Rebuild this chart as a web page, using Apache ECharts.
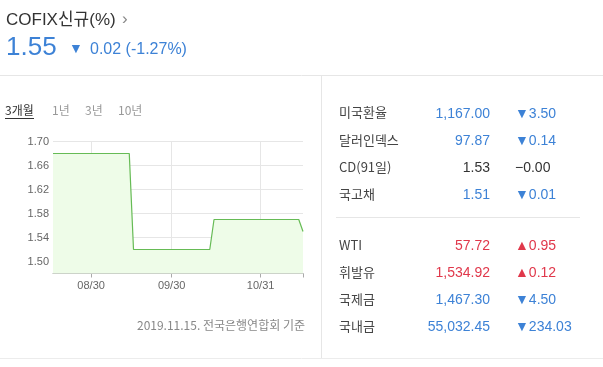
<!DOCTYPE html>
<html><head><meta charset="utf-8">
<script src="https://cdn.jsdelivr.net/npm/echarts@6/dist/echarts.min.js"></script>
<style>html,body{margin:0;padding:0;background:#fff;}#c{width:603px;height:367px;}</style>
</head><body><div id="c"></div>
<script>
// ---- data ----
var dates = ['08/19','08/20','08/21','08/22','08/23','08/26','08/27','08/28','08/29','08/30',
 '09/02','09/03','09/04','09/05','09/06','09/09','09/10','09/11','09/16','09/17','09/18','09/19','09/20','09/23','09/24','09/25','09/26','09/27','09/30',
 '10/01','10/02','10/04','10/07','10/08','10/10','10/11','10/14','10/15','10/16','10/17','10/18','10/21','10/22','10/23','10/24','10/25','10/28','10/29','10/30','10/31',
 '11/01','11/04','11/05','11/06','11/07','11/08','11/11','11/12','11/13','11/14'];
var cofix = [1.68,1.68,1.68,1.68,1.68,1.68,1.68,1.68,1.68,1.68,
 1.68,1.68,1.68,1.68,1.68,1.68,1.68,1.68,1.68,1.52,1.52,1.52,1.52,1.52,1.52,1.52,1.52,1.52,1.52,
 1.52,1.52,1.52,1.52,1.52,1.52,1.52,1.52,1.52,1.57,1.57,1.57,1.57,1.57,1.57,1.57,1.57,1.57,1.57,1.57,1.57,
 1.57,1.57,1.57,1.57,1.57,1.57,1.57,1.57,1.57,1.55];
var xTickLabels = ['08/30','09/30','10/31'];
var yTickLabels = ['1.50','1.54','1.58','1.62','1.66','1.70'];
var titleText = 'COFIX신규(%)';
var currentValue = '1.55';
var changeText = '0.02 (-1.27%)';
var periodTabs = ['3개월','1년','3년','10년'];
var footerText = '2019.11.15. 전국은행연합회 기준';
var marketNames = ['미국환율','달러인덱스','CD(91일)','국고채','WTI','휘발유','국제금','국내금'];
var marketValues = ['1,167.00','97.87','1.53','1.51','57.72','1,534.92','1,467.30','55,032.45'];
var marketChanges = [-3.50,-0.14,0.00,-0.01,0.95,0.12,-4.50,-234.03];

// ---- layout ----
var NUM = '"Liberation Sans", "Noto Sans CJK KR", sans-serif';
var KR = '"Noto Sans CJK KR", "Liberation Sans", sans-serif';
var BLUE = '#3d82d6', RED = '#e0384b', DARK = '#333';
var rowY = [114, 141.5, 168.5, 195.5, 246.5, 273.5, 300.5, 327.5];
var tabX = [5, 52, 85, 118];

var g = [];
function line(x1,y1,x2,y2,c){ g.push({type:'line',shape:{x1:x1,y1:y1,x2:x2,y2:y2},style:{stroke:c||'#e6e6e6',lineWidth:1},silent:true}); }
function text(t,x,y,o){ g.push({type:'text',x:x,y:y,style:Object.assign({text:t,textVerticalAlign:'middle',verticalAlign:'middle'},o),silent:true}); }

line(0,75.5,603,75.5);
line(321.5,76,321.5,358);
line(0,358.5,603,358.5,'#ececec');
line(336,217.5,580,217.5);

text(titleText,6,20,{font:'17px '+NUM,fill:DARK});
text('›',122,19,{font:'17px '+NUM,fill:'#888'});
text(currentValue,6,48,{font:'26px '+NUM,fill:BLUE});
text('▼',69,49,{font:'14px '+NUM,fill:BLUE});
text(changeText,90,50,{font:'16px '+NUM,fill:BLUE});

periodTabs.forEach(function(t,i){
  text(t,tabX[i],110,{font:'12px '+KR,fill:i===0?DARK:'#999'});
});
line(5,118.5,34,118.5,'#333');

text(footerText,305,325,{font:'12px '+KR,fill:'#888',align:'right',textAlign:'right'});

marketNames.forEach(function(n,i){
  var ch = marketChanges[i];
  var col = ch < 0 ? BLUE : (ch > 0 ? RED : DARK);
  var sym = ch < 0 ? '▼' : (ch > 0 ? '▲' : '−');
  text(n,339,rowY[i]-1.5,{font:'13px '+KR,fill:'#444'});
  text(marketValues[i],490,rowY[i],{font:'14px '+NUM,fill:col,align:'right',textAlign:'right'});
  text(sym+Math.abs(ch).toFixed(2),515,rowY[i],{font:'14px '+NUM,fill:col});
});

var showIdx = function(i){ return xTickLabels.indexOf(dates[i]) >= 0; };

var chart = echarts.init(document.getElementById('c'), null, {renderer:'canvas'});
chart.setOption({
  animation:false,
  grid:{left:53,right:300,top:141.5,bottom:93.5,containLabel:false},
  xAxis:{
    type:'category', data:dates, boundaryGap:false,
    axisLine:{lineStyle:{color:'#aaa'}},
    axisTick:{show:true,length:4,lineStyle:{color:'#aaa'},interval:function(i){return showIdx(i)||i===dates.length-1;}},
    axisLabel:{interval:function(i){return showIdx(i);},color:'#666',fontSize:11,fontFamily:NUM,margin:7},
    splitLine:{show:true,interval:function(i){return showIdx(i);},lineStyle:{color:'#e6e6e6'}}
  },
  yAxis:{
    type:'value', min:1.48, max:1.70, interval:0.02,
    axisLine:{show:false}, axisTick:{show:false},
    axisLabel:{color:'#666',fontSize:11,fontFamily:NUM,margin:4,
      formatter:function(v){ var s=v.toFixed(2); return yTickLabels.indexOf(s)>=0?s:''; }},
    splitLine:{show:true,lineStyle:{color:['rgba(0,0,0,0)','#e6e6e6']}}
  },
  series:[{
    type:'line', data:cofix, symbol:'none',
    lineStyle:{color:'#66bb55',width:1.2},
    areaStyle:{color:'#eefce8',opacity:1,origin:'start'}
  }],
  graphic:g
});
</script></body></html>
